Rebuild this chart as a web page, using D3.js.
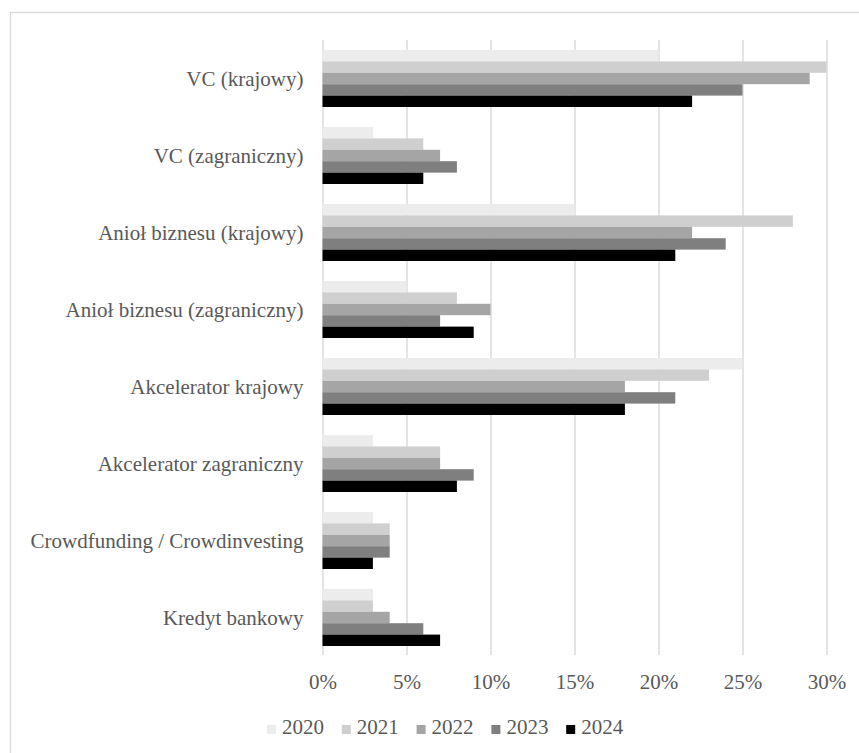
<!DOCTYPE html>
<html>
<head>
<meta charset="utf-8">
<script src="https://cdn.jsdelivr.net/npm/d3@7"></script>
<style>
  html, body { margin: 0; padding: 0; background: #fff; }
  svg { display: block; }
</style>
</head>
<body>
<svg id="chart" width="859" height="753"></svg>
<script>
// categories (top to bottom) and shares per year
var categories = [
  'VC (krajowy)',
  'VC (zagraniczny)',
  'Anioł biznesu (krajowy)',
  'Anioł biznesu (zagraniczny)',
  'Akcelerator krajowy',
  'Akcelerator zagraniczny',
  'Crowdfunding / Crowdinvesting',
  'Kredyt bankowy'
];
var years = ['2020', '2021', '2022', '2023', '2024'];

var values2020 = [0.20, 0.03, 0.15, 0.05, 0.25, 0.03, 0.03, 0.03];
var values2021 = [0.30, 0.06, 0.28, 0.08, 0.23, 0.07, 0.04, 0.03];
var values2022 = [0.29, 0.07, 0.22, 0.10, 0.18, 0.07, 0.04, 0.04];
var values2023 = [0.25, 0.08, 0.24, 0.07, 0.21, 0.09, 0.04, 0.06];
var values2024 = [0.22, 0.06, 0.21, 0.09, 0.18, 0.08, 0.03, 0.07];

var xTicks = [0, 0.05, 0.10, 0.15, 0.20, 0.25, 0.30];
var yearColors = ['#ececec', '#cfcfcf', '#a5a5a5', '#7f7f7f', '#000000'];

var series = [values2020, values2021, values2022, values2023, values2024];

var svg = d3.select('#chart');
var font = '"Liberation Serif", "Times New Roman", serif';
var textColor = '#595959';

function styleText(sel) {
  sel.style('font-family', font)
    .style('font-size', '21px')
    .attr('fill', textColor);
}

// chart frame (runs off the right and bottom of the picture)
svg.append('rect')
  .attr('x', 10.5).attr('y', 12.5)
  .attr('width', 900).attr('height', 800)
  .attr('fill', 'none')
  .attr('stroke', '#d9d9d9')
  .attr('stroke-width', 1.3);

var plot = { left: 322.5, right: 826.5, top: 40, bottom: 656 };

var x = d3.scaleLinear().domain([0, 0.30]).range([plot.left, plot.right]);
var y = d3.scaleBand().domain(categories).range([plot.top, plot.bottom]);
var groupH = 57;
var yInner = d3.scaleBand().domain(years)
  .range([(y.bandwidth() - groupH) / 2, (y.bandwidth() + groupH) / 2]);

// gridlines + tick labels
var xAxis = svg.append('g')
  .attr('transform', 'translate(0,' + (plot.bottom - 1) + ')')
  .call(d3.axisBottom(x).tickValues(xTicks)
    .tickSize(-(plot.bottom - 1 - plot.top))
    .tickFormat(d3.format('.0%')));
xAxis.select('.domain').remove();
xAxis.selectAll('.tick line')
  .attr('stroke', '#d9d9d9')
  .attr('stroke-width', 1.4);
xAxis.selectAll('.tick text')
  .attr('y', 34)
  .attr('dy', null)
  .call(styleText);

// bars
var groups = svg.append('g').selectAll('g')
  .data(categories)
  .join('g')
  .attr('transform', function(d) { return 'translate(0,' + y(d) + ')'; });

groups.selectAll('rect')
  .data(function(d, i) {
    return years.map(function(yr, j) { return { year: yr, value: series[j][i], color: yearColors[j] }; });
  })
  .join('rect')
  .attr('x', x(0))
  .attr('y', function(d) { return yInner(d.year); })
  .attr('width', function(d) { return x(d.value) - x(0); })
  .attr('height', yInner.bandwidth())
  .attr('fill', function(d) { return d.color; });

// category labels
var yAxis = svg.append('g')
  .attr('transform', 'translate(' + plot.left + ',0)')
  .call(d3.axisLeft(y).tickSize(0).tickPadding(19));
yAxis.select('.domain').remove();
yAxis.selectAll('.tick text')
  .attr('dy', '0.36em')
  .call(styleText);

// legend
var legend = svg.append('g').attr('transform', 'translate(267,734)');
var item = legend.selectAll('g')
  .data(years)
  .join('g')
  .attr('transform', function(d, i) { return 'translate(' + (i * 74.8) + ',0)'; });
item.append('rect')
  .attr('x', 0).attr('y', -9)
  .attr('width', 9).attr('height', 9)
  .attr('fill', function(d, i) { return yearColors[i]; });
item.append('text')
  .attr('x', 15)
  .call(styleText)
  .text(function(d) { return d; });
</script>
</body>
</html>
